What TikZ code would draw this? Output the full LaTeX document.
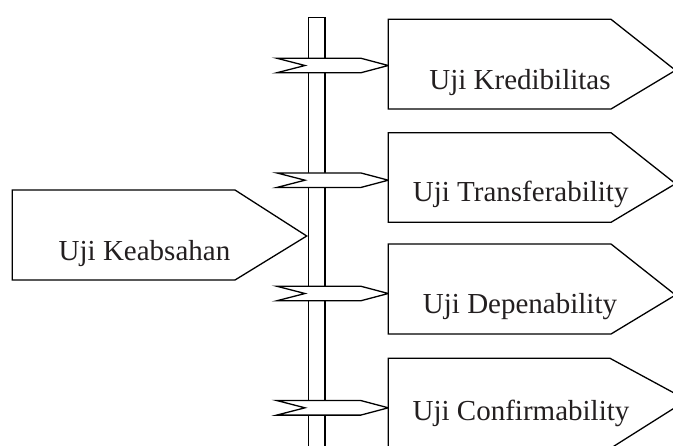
\documentclass[tikz,border=0pt]{standalone}
\usepackage{fontspec}
\setmainfont{Liberation Serif}
\usepackage{xcolor}
\usepackage{tikz}

\definecolor{tulisan}{RGB}{35,31,32}

\begin{document}
\begin{tikzpicture}[x=0.5pt,y=-0.5pt,line width=0.65pt,line join=miter]
  \tikzstyle{every node}=[font=\fontsize{14.5}{17}\selectfont, text=tulisan, anchor=base]
  \tikzstyle{papan}=[draw=black, fill=white]

  \useasboundingbox (0,0) rectangle (673,445);
  \clip (0,0) rectangle (673,445);

  % tiang
  \draw[papan] (308.3,17.5) rectangle (325,460);

  % papan kiri
  \draw[papan] (12.3,190) -- (235,190) -- (306.7,236) -- (235,280) -- (12.3,280) -- cycle;
  \node (keabsahan) at (144.5,260) {Uji Keabsahan};

  % panah kecil pada tiang
  \draw[papan] (276.7,58.2) -- (360.7,58.2) -- (388.3,65.5) -- (360.7,72.8) -- (276.7,72.8) -- (305,65.5) -- cycle;
  \draw[papan] (276.7,172.9) -- (360.7,172.9) -- (388.3,180.2) -- (360.7,187.5) -- (276.7,187.5) -- (305,180.2) -- cycle;
  \draw[papan] (276.7,286.2) -- (360.7,286.2) -- (388.3,293.5) -- (360.7,300.8) -- (276.7,300.8) -- (305,293.5) -- cycle;
  \draw[papan] (276.7,400.5) -- (360.7,400.5) -- (388.3,407.8) -- (360.7,415.1) -- (276.7,415.1) -- (305,407.8) -- cycle;

  % papan kanan
  \draw[papan] (388.3,19.3) -- (611,19.3) -- (675.5,70.3) -- (611,109) -- (388.3,109) -- cycle;
  \node (kredibilitas) at (520,89.3) {Uji Kredibilitas};

  \draw[papan] (388.3,132.7) -- (611,132.7) -- (675.5,183.7) -- (611,222.3) -- (388.3,222.3) -- cycle;
  \node (transferability) at (520.7,201.7) {Uji Transferability};

  \draw[papan] (388.3,244) -- (611,244) -- (675.5,295) -- (611,334) -- (388.3,334) -- cycle;
  \node (depenability) at (520,313) {Uji Depenability};

  \draw[papan] (388.3,358.3) -- (610,358.3) -- (687,400) -- (611,448) -- (388.3,448) -- cycle;
  \node (confirmability) at (521,420.7) {Uji Confirmability};
\end{tikzpicture}
\end{document}
